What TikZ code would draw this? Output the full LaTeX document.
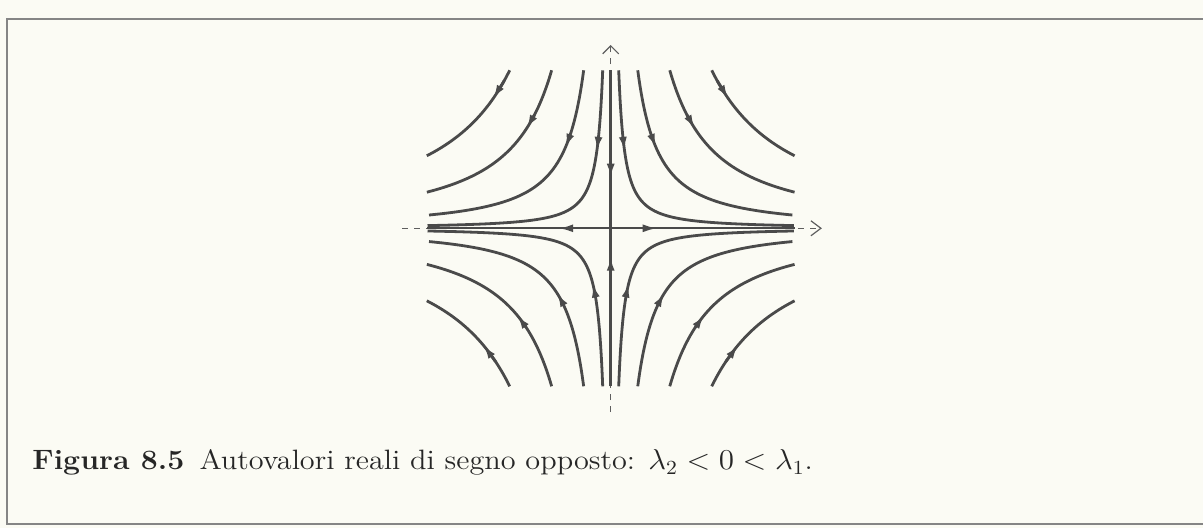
\documentclass[tikz,border=0pt]{standalone}
\usetikzlibrary{arrows.meta,decorations.markings}
\definecolor{phInk}  {HTML}{4A4A4A}
\definecolor{phAxis} {HTML}{5E5E5E}
\definecolor{phFrame}{HTML}{858585}
\definecolor{phPaper}{HTML}{FBFBF4}
\tikzset{
  orbit/.style={draw=phInk,line width=1.4pt},
  orbittip/.style={orbit,-{Latex[length=7pt,width=4pt]}},
  axisline/.style={draw=phInk,line width=1pt},
  axisdash/.style={draw=phAxis,line width=0.6pt,dash pattern=on 3pt off 3pt},
  flowmark/.style={postaction={decorate},decoration={markings,
      mark=at position #1 with {\arrow{Latex[length=7pt,width=4pt]}}}},
}

\begin{document}
\begin{tikzpicture}[x=0.5pt,y=0.5pt]
  \fill[phPaper] (0,0) rectangle (1203,528);
  \useasboundingbox (0,0) rectangle (1203,528);
  % frame of the figure
  \draw[phFrame,line width=1pt] (1210,509) -- (7,509) -- (7,4) -- (1210,4);

  \begin{scope}[shift={(610.7,299.7)},x=92pt,y=79pt]
    \coordinate (O) at (0,0);
    \coordinate (N) at (0,1);
    \coordinate (S) at (0,-1);
    \coordinate (W) at (-1,0);
    \coordinate (E) at (1,0);
    \coordinate (xa) at (-1.134,0);
    \coordinate (xb) at (1.148,0);
    \coordinate (ya) at (0,-1.163);
    \coordinate (yb) at (0,1.16);

    % dashed coordinate axes
    \draw[axisdash,-{Straight Barb[length=5pt,width=7.5pt]}] (xa) -- (xb);
    \draw[axisdash,-{Straight Barb[length=4pt,width=8pt]}] (ya) -- (yb);

    % orbits  y = c |x|^{-1.3}; arrow tips at parameter \tu (upper) / \tl (lower)
    \foreach \a/\tu/\tl in {0.0435/0.549/0.808, 0.147/0.518/0.686,
                            0.321/0.355/0.460, 0.549/0.153/0.232} {
      \pgfmathsetmacro\tEnd{-ln(\a)}
      \foreach \sx in {-1,1}
        \foreach \sy in {-1,1} {
          \pgfmathsetmacro\tm{\sy>0 ? \tu : \tl}
          \pgfmathsetmacro\tBack{\tm-0.1}
          \draw[orbit] plot[domain=0:\tEnd,samples=80]
            ({\sx*\a*exp(\x)},{\sy*exp(-1.3*\x)});
          \draw[orbittip] ({\sx*\a*exp(\tBack)},{\sy*exp(-1.3*\tBack)})
            -- ({\sx*\a*exp(\tm)},{\sy*exp(-1.3*\tm)});
        }
    }

    % stable and unstable manifolds
    \draw[orbit,flowmark=0.68] (N) -- (O);
    \draw[orbit,flowmark=0.82] (S) -- (O);
    \draw[axisline,flowmark=0.28] (O) -- (W);
    \draw[axisline,flowmark=0.25] (O) -- (E);
  \end{scope}

  \node[anchor=base west,inner sep=0pt,text=black!85,font=\fontsize{14}{16}\selectfont]
    (caption) at (32,58)
    {\scalebox{1.08}[1]{\textbf{Figura 8.5}\enspace Autovalori reali di segno opposto: $\lambda_2<0<\lambda_1$.}};
\end{tikzpicture}
\end{document}
